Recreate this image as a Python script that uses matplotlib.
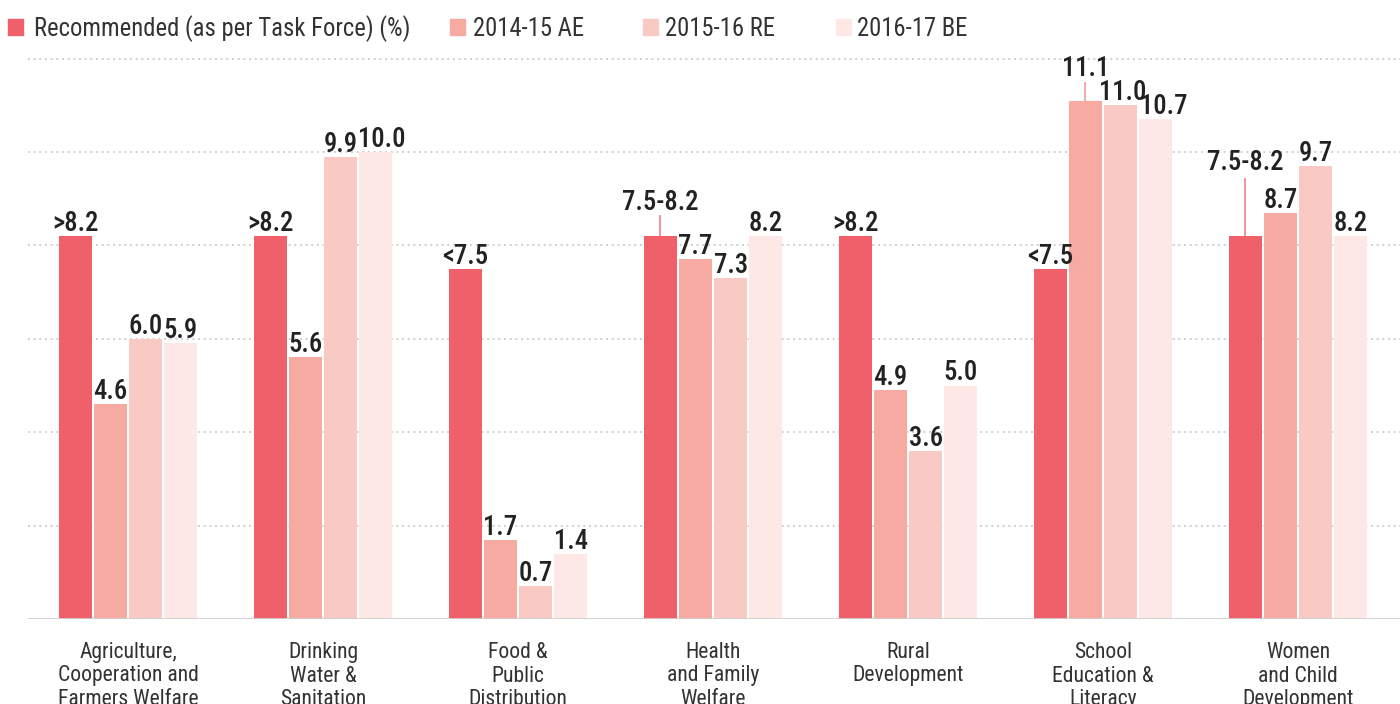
import matplotlib
matplotlib.use("Agg")
import matplotlib.pyplot as plt
from matplotlib import font_manager
from matplotlib.font_manager import FontProperties
from matplotlib.patches import Rectangle
from matplotlib.textpath import TextPath
import numpy as np

categories = ["Agriculture,\nCooperation and\nFarmers Welfare", "Drinking\nWater &\nSanitation",
              "Food &\nPublic\nDistribution", "Health\nand Family\nWelfare", "Rural\nDevelopment",
              "School\nEducation &\nLiteracy", "Women\nand Child\nDevelopment"]
series_names = ["Recommended (as per Task Force) (%)", "2014-15 AE", "2015-16 RE", "2016-17 BE"]
recommended = [8.2, 8.2, 7.5, 8.2, 8.2, 7.5, 8.2]
recommended_labels = [">8.2", ">8.2", "<7.5", "7.5-8.2", ">8.2", "<7.5", "7.5-8.2"]
ae_2014 = [4.6, 5.6, 1.7, 7.7, 4.9, 11.1, 8.7]
re_2015 = [6.0, 9.9, 0.7, 7.3, 3.6, 11.0, 9.7]
be_2016 = [5.9, 10.0, 1.4, 8.2, 5.0, 10.7, 8.2]

colors = ["#F0606A", "#F7AAA2", "#F9CAC3", "#FDE8E5"]


def find_font(weight):
    prefs = {'Roboto Condensed': 0, 'Noto Sans': 1, 'Liberation Sans Narrow': 2,
             'Open Sans': 3, 'Noto Sans Display': 4, 'Open Sans Condensed': 5}
    cands = []
    for f in font_manager.fontManager.ttflist:
        nm = f.name
        st = str(f.stretch)
        if f.style != 'normal' or nm not in prefs:
            continue
        cond = (('condensed' in st and 'extra' not in st and 'ultra' not in st)
                or 'Condensed' in nm or 'Narrow' in nm)
        if not cond:
            continue
        stpen = 0 if (st == 'condensed' or 'Condensed' in nm or 'Narrow' in nm) else 1
        try:
            w = int(f.weight)
        except Exception:
            w = {'normal': 400, 'regular': 400, 'medium': 500, 'semibold': 600,
                 'bold': 700}.get(str(f.weight).lower(), 400)
        cands.append((prefs[nm], stpen, abs(w - weight), f.fname))
    if cands:
        cands.sort()
        return FontProperties(fname=cands[0][3])
    return FontProperties(family=['Roboto', 'DejaVu Sans'],
                          weight=('bold' if weight >= 600 else 'normal'))


fp_val = find_font(560)
fp_txt = find_font(400)

W, H = 1400, 704
DPI = 100
fig = plt.figure(figsize=(W / DPI, H / DPI), dpi=DPI)
renderer = fig.canvas.get_renderer()


def fit(fp, text, target_px, base=20.0):
    f = fp.copy()
    f.set_size(base)
    t = fig.text(0, 0, text, fontproperties=f)
    w = t.get_window_extent(renderer).width
    t.remove()
    f = fp.copy()
    f.set_size(base * target_px / w)
    return f


def fit_height(fp, text, target_px):
    tp = TextPath((0, 0), text, size=100, prop=fp)
    ink_h = tp.get_extents().height
    size_px = 100 * target_px / ink_h
    f = fp.copy()
    f.set_size(size_px * 72 / DPI)
    return f


f_val = fit_height(fp_val, "10.0", 19.5)
f_leg = fit(fp_txt, "Recommended (as per Task Force) (%)", 376)
f_cat = fit(fp_txt, "Cooperation and", 140)

base_px = 619
ppu = 46.7
ax = fig.add_axes([28 / W, 1 - base_px / H, 1 - 28 / W, base_px / H])
ax.set_xlim(-0.513, 6.523)
ax.set_ylim(0, base_px / ppu)

x = np.arange(len(categories))
step = 0.18
width = 0.172
all_series = [recommended, ae_2014, re_2015, be_2016]
all_labels = [recommended_labels,
              [f"{v:.1f}" for v in ae_2014],
              [f"{v:.1f}" for v in re_2015],
              [f"{v:.1f}" for v in be_2016]]

# raised labels: (series, category) -> (leader length px, label baseline offset px)
raised = {(0, 3): (21, 26), (0, 6): (58, 66), (1, 5): (19, 25)}
# horizontal nudges (px) of a few labels, as in the original layout
nudge = {(3, 1): 6, (3, 5): 8, (2, 5): 2}

for gy in [2, 4, 6, 8, 10, 12]:
    ax.axhline(gy, color="#c9c9c9", lw=1.2, ls=(0, (1.2, 2.2)), zorder=0)

for si, (vals, labs) in enumerate(zip(all_series, all_labels)):
    xs = x + (si - 1.5) * step
    ax.bar(xs, vals, width=width, color=colors[si], zorder=2, linewidth=0)
    for ci, (xx, v, lab) in enumerate(zip(xs, vals, labs)):
        off = 5
        if (si, ci) in raised:
            lead, off = raised[(si, ci)]
            lc = "#F7A3A0" if si == 1 else "#F28A90"
            ax.plot([xx, xx], [v, v + lead / ppu], color=lc, lw=1.3, zorder=3,
                    solid_capstyle='butt')
        ax.annotate(lab, xy=(xx, v), xytext=(nudge.get((si, ci), 0), off),
                    textcoords='offset pixels', ha='center', va='baseline',
                    fontproperties=f_val, color="#222222", zorder=4, annotation_clip=False)

ax.axhline(0, color="#cfcfcf", lw=2, zorder=3)

for ci, cat in enumerate(categories):
    for li, line in enumerate(cat.split("\n")):
        ax.annotate(line, xy=(ci, 0), xytext=(0, -(39 + 23.5 * li)), textcoords='offset pixels',
                    ha='center', va='baseline', fontproperties=f_cat, color="#333333",
                    annotation_clip=False)

for s in ax.spines.values():
    s.set_visible(False)
ax.set_xticks([])
ax.set_yticks([])
ax.patch.set_alpha(0)

# legend
leg_sq = [8, 450, 643, 836]
leg_tx = [34, 473, 665, 857]
for i, name in enumerate(series_names):
    fig.patches.append(Rectangle((leg_sq[i] / W, 1 - 35 / H), 15 / W, 16 / H,
                                 transform=fig.transFigure, color=colors[i]))
    fig.text(leg_tx[i] / W, 1 - 36.5 / H, name, ha='left', va='baseline',
             fontproperties=f_leg, color="#333333")

fig.savefig("out.png", dpi=DPI)
